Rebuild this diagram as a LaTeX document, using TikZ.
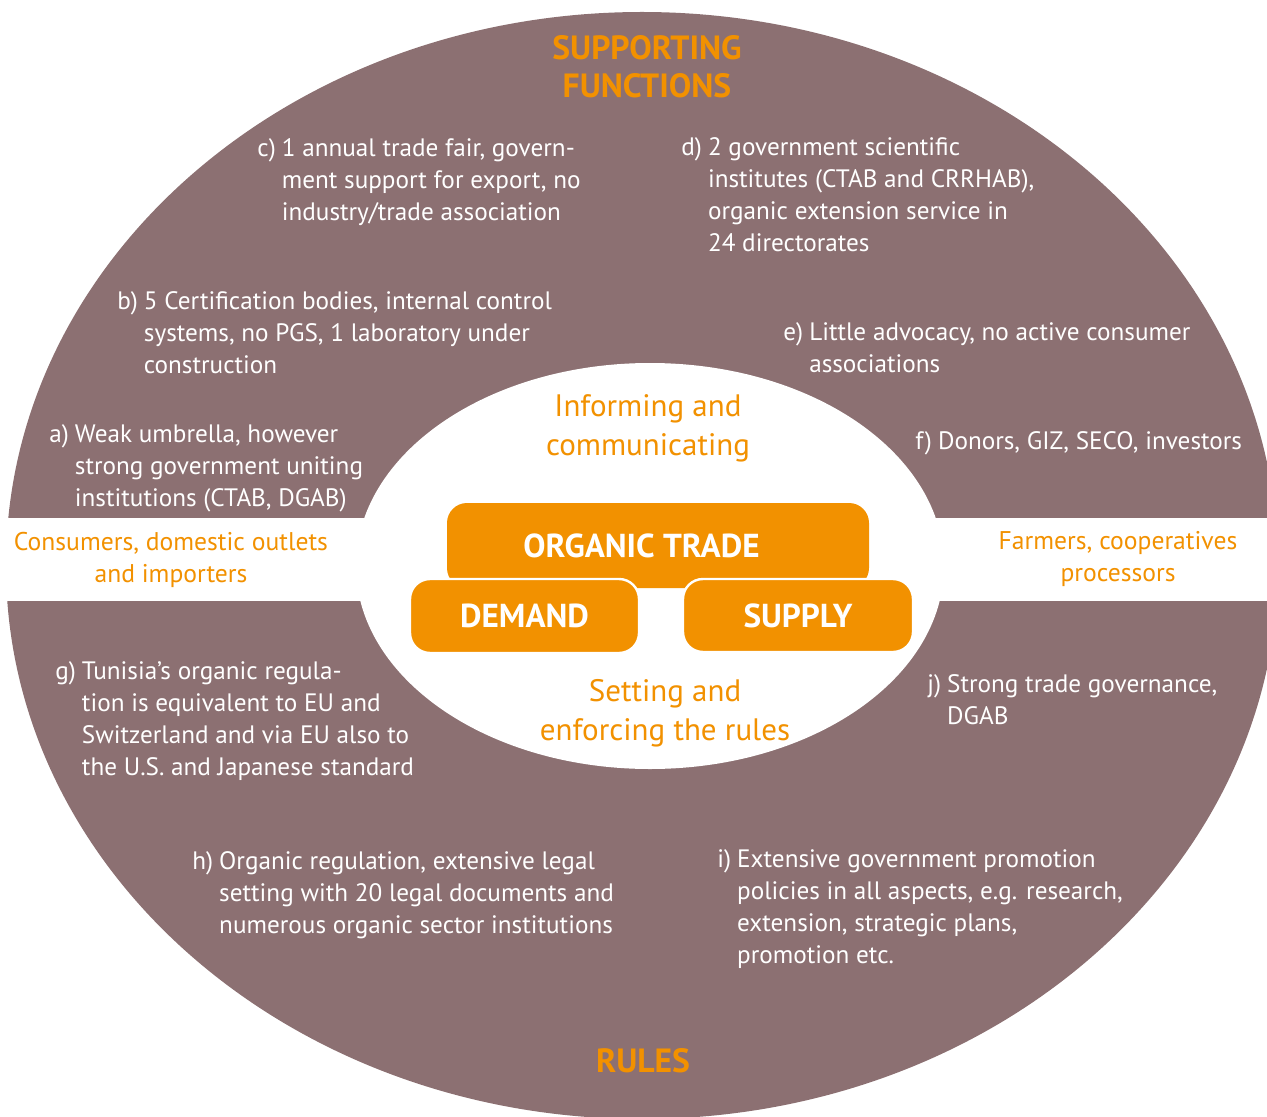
\documentclass[tikz,border=0pt]{standalone}
\usepackage{fontspec}
\setmainfont{PT Sans}
\usepackage{xcolor}
\definecolor{mauve}{RGB}{140,112,114}
\definecolor{gizorange}{RGB}{242,145,0}
\newcommand{\itm}[2]{\begin{tabular}[t]{@{}l@{\hspace{3pt}}l@{}}#1&\begin{tabular}[t]{@{}l@{}}#2\end{tabular}\end{tabular}}

\begin{document}
\begin{tikzpicture}[x=0.5pt,y=-0.5pt,
  note/.style={text=white,font=\fontsize{12.6}{16}\selectfont,anchor=base west,inner sep=0pt},
  side/.style={text=gizorange,font=\fontsize{12.8}{16}\selectfont,align=center,inner sep=0pt},
  inlabel/.style={text=gizorange,font=\fontsize{15.5}{19.5}\selectfont,align=center,inner sep=0pt},
  heading/.style={text=gizorange,font=\bfseries\fontsize{16.8}{19}\selectfont,align=center,inner sep=0pt},
  block/.style={fill=gizorange,text=white,font=\bfseries\fontsize{16.6}{18}\selectfont,rounded corners=10pt,inner sep=0pt}]
\useasboundingbox (0,0) rectangle (1267,1117);
\begin{scope}
\clip (0,0) rectangle (1267,1117);
\fill[mauve] (642,565.5) ellipse [x radius=636, y radius=553.5];
\end{scope}
\fill[white] (0,518) rectangle (1267,601);
\fill[white] (650,566) ellipse [x radius=294, y radius=203];
% centre blocks
\node[block,minimum width=211pt,minimum height=42.5pt] (trade) at (658,545.5) {ORGANIC TRADE\hspace*{16.5pt}};
\node[block,draw=white,line width=1.2pt,minimum width=114.5pt,minimum height=37pt] (demand) at (524.5,616) {DEMAND};
\node[block,draw=white,line width=1.2pt,minimum width=115pt,minimum height=36.5pt] (supply) at (798,615.5) {SUPPLY};
% headings and labels
\node[heading] (support) at (647,67) {SUPPORTING\\FUNCTIONS};
\node[heading] (rules) at (643,1061) {RULES};
\node[inlabel] (inform) at (648,428) {Informing and\\communicating};
\node[inlabel] (setting) at (665,713) {Setting and\\enforcing the rules};
\node[side] (consumers) at (171,560) {Consumers, domestic outlets\\and importers};
\node[side] (farmers) at (1118,559) {Farmers, cooperatives\\processors};
% notes
\node[note] (a) at (49,442) {\itm{a)}{Weak umbrella, however\\strong government uniting\\institutions (CTAB, DGAB)}};
\node[note] (b) at (117,310) {\itm{b)}{5 Certification bodies, internal control\\systems, no PGS, 1 laboratory under\\construction}};
\node[note] (c) at (257,157) {\itm{c)}{1 annual trade fair, govern-\\ment support for export, no\\industry/trade association}};
\node[note] (d) at (681,156) {\itm{d)}{2 government scientific\\institutes (CTAB and CRRHAB),\\organic extension service in\\24 directorates}};
\node[note] (e) at (783,341) {\itm{e)}{Little advocacy, no active consumer\\associations}};
\node[note] (f) at (915,449) {\itm{f)}{Donors, GIZ, SECO, investors}};
\node[note] (g) at (55,679) {\itm{g)}{Tunisia’s organic regula-\\tion is equivalent to EU and\\Switzerland and via EU also to\\the U.S. and Japanese standard}};
\node[note] (h) at (192,869) {\itm{h)}{Organic regulation, extensive legal\\setting with 20 legal documents and\\numerous organic sector institutions}};
\node[note] (i) at (717,867) {\itm{i)}{Extensive government promotion\\policies in all aspects, e.g. research,\\extension, strategic plans,\\promotion etc.}};
\node[note] (j) at (927,692) {\itm{j)}{Strong trade governance,\\DGAB}};
\end{tikzpicture}
\end{document}
